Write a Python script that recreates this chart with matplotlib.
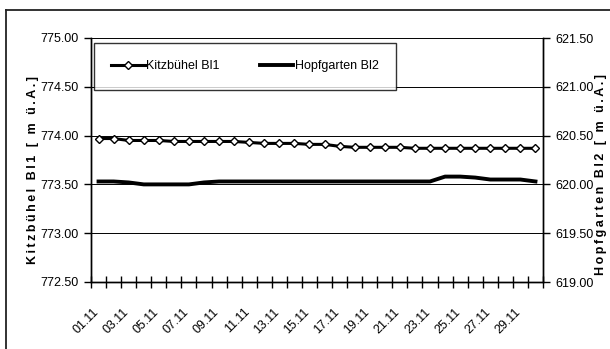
import matplotlib
matplotlib.use("Agg")
import matplotlib.pyplot as plt
from matplotlib.lines import Line2D
from matplotlib.transforms import ScaledTranslation
import numpy as np

plt.rcParams['font.family'] = ['Liberation Sans', 'DejaVu Sans']

# Daily dates (November)
days = ["01.11", "02.11", "03.11", "04.11", "05.11", "06.11", "07.11", "08.11",
        "09.11", "10.11", "11.11", "12.11", "13.11", "14.11", "15.11", "16.11",
        "17.11", "18.11", "19.11", "20.11", "21.11", "22.11", "23.11", "24.11",
        "25.11", "26.11", "27.11", "28.11", "29.11", "30.11"]

# Water levels [m ü.A.]
kitzbuehel = [773.97, 773.97, 773.95, 773.95, 773.95, 773.94, 773.94, 773.94,
              773.94, 773.94, 773.93, 773.92, 773.92, 773.92, 773.91, 773.91,
              773.89, 773.88, 773.88, 773.88, 773.88, 773.87, 773.87, 773.87,
              773.87, 773.87, 773.87, 773.87, 773.87, 773.87]
hopfgarten = [620.03, 620.03, 620.02, 620.00, 620.00, 620.00, 620.00, 620.02,
              620.03, 620.03, 620.03, 620.03, 620.03, 620.03, 620.03, 620.03,
              620.03, 620.03, 620.03, 620.03, 620.03, 620.03, 620.03, 620.08,
              620.08, 620.07, 620.05, 620.05, 620.05, 620.03]

left_ticks = [772.5, 773.0, 773.5, 774.0, 774.5, 775.0]
right_ticks = [619.0, 619.5, 620.0, 620.5, 621.0, 621.5]


def spaced(s):
    return "\u2009".join(s)


W, H = 610, 349
fig = plt.figure(figsize=(W / 100, H / 100), dpi=100)
ax = fig.add_axes([91 / W, 1 - 282 / H, (543 - 91) / W, (282 - 38) / H])
ax2 = ax.twinx()

x = np.arange(len(days))

ax.set_xlim(-0.5, len(days) - 0.5)
ax.set_ylim(left_ticks[0], left_ticks[-1])
ax2.set_ylim(right_ticks[0], right_ticks[-1])

ax.set_yticks(left_ticks)
ax.set_yticklabels([f"{v:.2f}" for v in left_ticks])
ax2.set_yticks(right_ticks)
ax2.set_yticklabels([f"{v:.2f}" for v in right_ticks])

ax.yaxis.grid(True, color='black', lw=0.7)
ax.set_axisbelow(True)

# category boundaries as tick marks
ax.set_xticks(np.arange(len(days) + 1) - 0.5)
ax.set_xticklabels([])
ax.tick_params(axis='x', which='major', direction='inout', length=8, width=1)
ax.tick_params(axis='y', direction='out', length=5, width=1, labelsize=9, pad=4)
ax2.tick_params(axis='y', direction='out', length=5, width=1, labelsize=9, pad=4)

# date labels on every second day, slanted
lab_tr = ax.get_xaxis_transform() + ScaledTranslation(-6 / 100, -24 / 100,
                                                      fig.dpi_scale_trans)
for xi, lab in zip(x[::2], days[::2]):
    ax.text(xi, 0, lab, transform=lab_tr, rotation=45, ha='right', va='top',
            rotation_mode='anchor', fontsize=9)

for a in (ax, ax2):
    a.spines['top'].set_visible(False)
    for s in ('left', 'right', 'bottom'):
        a.spines[s].set_linewidth(1.0)
        a.spines[s].set_color('black')

l1, = ax.plot(x, kitzbuehel, color='black', lw=2.2, marker='D', markersize=4.5,
              markerfacecolor='white', markeredgecolor='black',
              markeredgewidth=1.0, label='Kitzbühel Bl1', zorder=3)
l2, = ax2.plot(x, hopfgarten, color='black', lw=2.8, label='Hopfgarten Bl2',
               solid_joinstyle='round', zorder=3)

ax.set_ylabel(spaced("Kitzbühel Bl1 [ m ü.A.]"), fontsize=9, fontweight='bold')
ax.yaxis.set_label_coords((39 - 91) / 452, (282 - 170) / 244)
ax2.set_ylabel(spaced("Hopfgarten Bl2 [ m ü.A.]"), fontsize=9, fontweight='bold',
               rotation=90)
ax2.yaxis.set_label_coords((595 - 91) / 452, (282 - 174) / 244)

leg = ax2.legend(handles=[l1, l2], ncol=2, loc='upper left',
                 bbox_to_anchor=(0.0066, 0.791, 0.668, 0.189), mode='expand',
                 fontsize=9, frameon=True, fancybox=False, handlelength=2.65,
                 handletextpad=0.1, borderpad=1.4, borderaxespad=0, numpoints=1)
leg.get_frame().set_edgecolor('black')
leg.get_frame().set_linewidth(1.0)

# chart area border
fig.add_artist(Line2D([6 / W, 6 / W], [0, 1 - 10 / H], transform=fig.transFigure,
                      color='#222222', lw=1.3))
fig.add_artist(Line2D([6 / W, 1], [1 - 10 / H, 1 - 10 / H], transform=fig.transFigure,
                      color='#222222', lw=1.3))

fig.savefig("out.png", dpi=100)
